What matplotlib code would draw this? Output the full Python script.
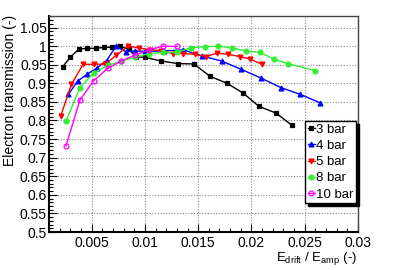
import matplotlib
matplotlib.use("Agg")
import matplotlib.pyplot as plt
from matplotlib.ticker import MultipleLocator, FuncFormatter

plt.rcParams['font.family'] = ['Liberation Sans', 'DejaVu Sans']
plt.rcParams['mathtext.default'] = 'regular'

x3 = [0.0023, 0.0030, 0.0038, 0.0046, 0.0054, 0.0062, 0.0069, 0.0077, 0.0085, 0.0092,
      0.0100, 0.0115, 0.0131, 0.0146, 0.0161, 0.0177, 0.0192, 0.0207, 0.0223, 0.0238]
y3 = [0.945, 0.970, 0.992, 0.994, 0.994, 0.997, 0.997, 1.000, 0.991, 0.971,
      0.970, 0.960, 0.953, 0.952, 0.919, 0.900, 0.874, 0.838, 0.820, 0.787]

x4 = [0.0028, 0.0037, 0.0046, 0.0055, 0.0064, 0.0073, 0.0082, 0.0091, 0.0100, 0.0118,
      0.0136, 0.0154, 0.0172, 0.0190, 0.0209, 0.0228, 0.0246, 0.0264]
y4 = [0.870, 0.906, 0.925, 0.941, 0.961, 1.000, 0.985, 0.987, 0.986, 0.987,
      0.990, 0.973, 0.960, 0.938, 0.914, 0.888, 0.870, 0.848]

x5 = [0.0021, 0.0031, 0.0042, 0.0052, 0.0063, 0.0073, 0.0084, 0.0094, 0.0105, 0.0115,
      0.0126, 0.0136, 0.0147, 0.0157, 0.0168, 0.0178, 0.0189, 0.0199, 0.0210]
y5 = [0.812, 0.897, 0.951, 0.951, 0.952, 0.975, 1.000, 0.995, 0.990, 0.988,
      0.980, 0.980, 0.978, 0.972, 0.981, 0.978, 0.972, 0.965, 0.951]

x8 = [0.0026, 0.0039, 0.0052, 0.0065, 0.0078, 0.0091, 0.0104, 0.0117, 0.0130, 0.0143,
      0.0156, 0.0169, 0.0182, 0.0195, 0.0208, 0.0221, 0.0234, 0.0260]
y8 = [0.799, 0.888, 0.928, 0.948, 0.960, 0.970, 0.980, 0.983, 0.983, 0.996,
      0.998, 1.000, 0.995, 0.987, 0.983, 0.965, 0.953, 0.934]

x10 = [0.0026, 0.0039, 0.0052, 0.0065, 0.0078, 0.0091, 0.0104, 0.0117, 0.0130]
y10 = [0.732, 0.855, 0.907, 0.940, 0.960, 0.976, 0.990, 1.000, 0.999]

series = [
    (x3, y3, '3 bar', 'black', 's', 'black', 3.5),
    (x4, y4, '4 bar', '#0000ff', '^', '#0000ff', 3.5),
    (x5, y5, '5 bar', '#ff0000', 'v', '#ff0000', 3.5),
    (x8, y8, '8 bar', '#33ee33', 'o', '#33ee33', 3.5),
    (x10, y10, '10 bar', '#ff00ff', 'o', 'none', 3.5),
]

W, H = 399, 270
fig = plt.figure(figsize=(W / 100, H / 100), dpi=100)
ax = fig.add_axes([49 / W, 1 - 232 / H, (358 - 49) / W, (232 - 16) / H])

for xs, ys, lab, col, mk, fc, ms in series:
    ax.plot(xs, ys, color=col, lw=1.0, marker=mk, markersize=ms,
            markerfacecolor=fc, markeredgecolor=col, markeredgewidth=0.9, label=lab)

ax.set_xlim(0.001, 0.03)
ax.set_ylim(0.5, 1.081)
ax.xaxis.set_major_locator(MultipleLocator(0.005))
ax.xaxis.set_minor_locator(MultipleLocator(0.001))
ax.yaxis.set_major_locator(MultipleLocator(0.05))
ax.yaxis.set_minor_locator(MultipleLocator(0.01))

def fmt(v, pos):
    s = ('%.4f' % v).rstrip('0').rstrip('.')
    return s
ax.xaxis.set_major_formatter(FuncFormatter(fmt))
ax.yaxis.set_major_formatter(FuncFormatter(fmt))

ax.tick_params(which='both', direction='in', top=False, right=False, labelsize=10)
ax.tick_params(which='major', length=6, width=0.8)
ax.tick_params(which='minor', length=3, width=0.8)
ax.tick_params(axis='x', pad=3)
ax.tick_params(axis='y', pad=1.5)
ax.grid(True, which='major', color='#888888', linestyle=(0, (1, 1.5)), linewidth=0.8)

for sp in ['left', 'bottom']:
    ax.spines[sp].set_linewidth(1.5)
    ax.spines[sp].set_color('black')
for sp in ['top', 'right']:
    ax.spines[sp].set_linewidth(1.0)
    ax.spines[sp].set_color('#444444')

fig.text(10 / W, 1 - 15 / H, 'Electron transmission (-)', fontsize=10,
         rotation=90, ha='center', va='top')
fig.text(357 / W, 1 - 261 / H, 'E$_{drift}$ / E$_{amp}$ (-)', fontsize=9.5,
         ha='right', va='baseline')

leg = ax.legend(loc='upper right', bbox_to_anchor=(356 / W, 1 - 121 / H),
                bbox_transform=fig.transFigure, fontsize=9.5,
                frameon=True, fancybox=False,
                shadow={'color': 'black', 'alpha': 1.0},
                borderpad=0.2, labelspacing=0.3, handlelength=0.5,
                handletextpad=0.1, borderaxespad=0.0, framealpha=1.0)
leg.get_frame().set_edgecolor('black')
leg.get_frame().set_linewidth(1.0)

fig.savefig('out.png', dpi=100)
